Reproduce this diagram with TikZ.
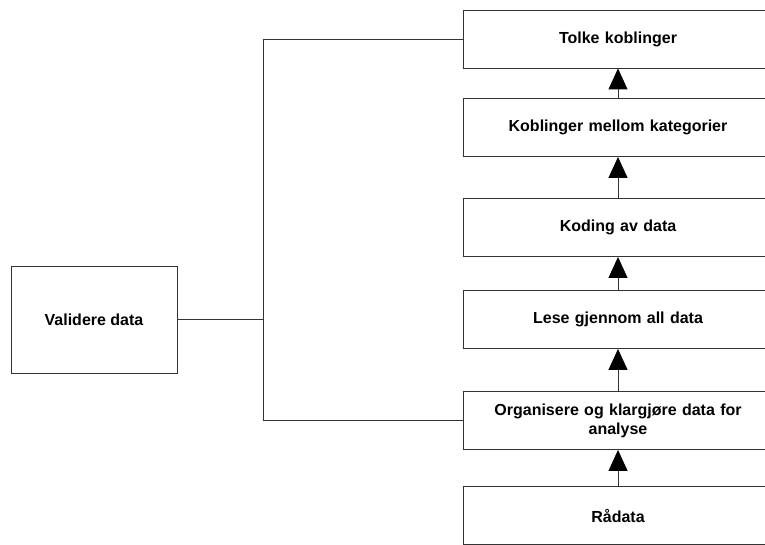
\documentclass[tikz,border=0pt]{standalone}
\usepackage{fontspec}
\setmainfont{Liberation Sans}
\usetikzlibrary{arrows.meta}
\definecolor{linec}{HTML}{333333}
\begin{document}
\begin{tikzpicture}[x=1pt,y=-1pt,
  stepbox/.style={draw=linec,line width=0.9pt,fill=white,minimum width=310pt,minimum height=58pt,inner sep=0pt,align=center,font=\fontsize{16}{19}\selectfont\bfseries,text width=290pt},
  valbox/.style={draw=linec,line width=0.9pt,fill=white,minimum width=166pt,minimum height=107pt,inner sep=0pt,align=center,font=\fontsize{16}{19}\selectfont\bfseries},
  flow/.style={draw=linec,line width=0.9pt,-{Triangle[length=21pt,width=19pt,color=black]}},
  link/.style={draw=linec,line width=0.9pt}]
\useasboundingbox (0,0) rectangle (765,545);
\clip (0,0) rectangle (765,545);
\fill[white] (0,0) rectangle (765,545);
\node[stepbox] (t) at (618,39) {Tolke koblinger};
\node[stepbox] (k) at (618,127.5) {Koblinger mellom kategorier};
\node[stepbox] (c) at (618,227.5) {Koding av data};
\node[stepbox] (l) at (618,319.5) {Lese gjennom all data};
\node[stepbox] (o) at (618,420.5) {Organisere og klargjøre data for\\analyse};
\node[stepbox] (r) at (618,515.5) {Rådata};
\node[valbox] (v) at (94,319.5) {Validere data};
\coordinate (jt) at (263,39);
\coordinate (jo) at (263,420.5);
\coordinate (jv) at (263,319.5);
\draw[flow] (r.north) -- (o.south);
\draw[flow] (o.north) -- (l.south);
\draw[flow] (l.north) -- (c.south);
\draw[flow] (c.north) -- (k.south);
\draw[flow] (k.north) -- (t.south);
\draw[link] (t.west) -- (jt) -- (jo) -- (o.west);
\draw[link] (v.east) -- (jv);
\end{tikzpicture}
\end{document}
